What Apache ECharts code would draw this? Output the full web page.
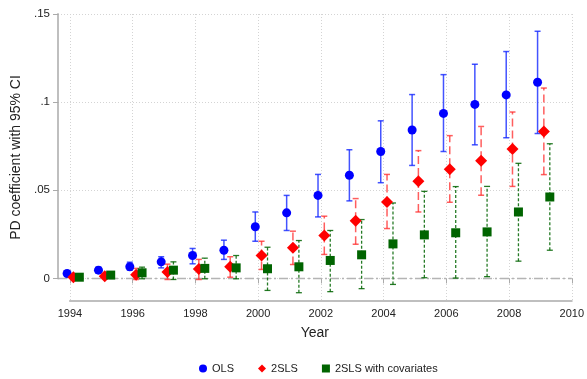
<!DOCTYPE html>
<html>
<head>
<meta charset="utf-8">
<script src="https://cdn.jsdelivr.net/npm/echarts@6/dist/echarts.min.js"></script>
<style>
  html, body { margin: 0; padding: 0; background: #fff; }
  #chart { width: 587px; height: 379px; }
</style>
</head>
<body>
<div id="chart"></div>
<script>
// Estimated PD coefficients by year with 95% confidence bounds
const years = [1994, 1995, 1996, 1997, 1998, 1999, 2000, 2001, 2002, 2003, 2004, 2005, 2006, 2007, 2008, 2009];

const olsCoef = [0.0028, 0.0047, 0.0066, 0.0094, 0.0130, 0.0160, 0.0293, 0.0372, 0.0471, 0.0585, 0.0720, 0.0842, 0.0936, 0.0987, 0.1041, 0.1113];
const olsLo   = [0.0020, 0.0030, 0.0047, 0.0060, 0.0083, 0.0108, 0.0211, 0.0272, 0.0349, 0.0440, 0.0543, 0.0641, 0.0720, 0.0758, 0.0798, 0.0822];
const olsHi   = [0.0036, 0.0064, 0.0092, 0.0123, 0.0170, 0.0217, 0.0377, 0.0471, 0.0590, 0.0730, 0.0894, 0.1043, 0.1156, 0.1215, 0.1287, 0.1402];

const slsCoef = [0.0007, 0.0013, 0.0021, 0.0036, 0.0053, 0.0066, 0.0130, 0.0174, 0.0243, 0.0327, 0.0434, 0.0551, 0.0619, 0.0668, 0.0734, 0.0834];
const slsLo   = [-0.0003, -0.0002, -0.0006, -0.0006, -0.0006, 0.0007, 0.0051, 0.0079, 0.0136, 0.0194, 0.0283, 0.0377, 0.0432, 0.0472, 0.0522, 0.0589];
const slsHi   = [0.0017, 0.0028, 0.0057, 0.0081, 0.0108, 0.0123, 0.0211, 0.0268, 0.0353, 0.0453, 0.0590, 0.0725, 0.0810, 0.0862, 0.0944, 0.1080];

const covCoef = [0.0007, 0.0019, 0.0032, 0.0047, 0.0057, 0.0060, 0.0055, 0.0066, 0.0102, 0.0134, 0.0196, 0.0247, 0.0259, 0.0264, 0.0377, 0.0462];
const covLo   = [-0.0002, 0.0004, -0.0002, -0.0006, -0.0002, -0.0002, -0.0068, -0.0081, -0.0075, -0.0058, -0.0034, 0.0004, 0.0002, 0.0010, 0.0098, 0.0160];
const covHi   = [0.0016, 0.0034, 0.0064, 0.0094, 0.0115, 0.0130, 0.0177, 0.0215, 0.0272, 0.0334, 0.0428, 0.0494, 0.0521, 0.0522, 0.0653, 0.0764];

const xTicks = [1994, 1996, 1998, 2000, 2002, 2004, 2006, 2008, 2010];
const yTicks = [0, 0.05, 0.1, 0.15];
const yTickText = ['0', '.05', '.1', '.15'];

const seriesNames = ['OLS', '2SLS', '2SLS with covariates'];

// axis extents and horizontal dodge of each estimator around the year
const X_MIN = 1993.62, X_MAX = 2010, Y_MIN = -0.0128, Y_MAX = 0.15;
const dodge = [-0.09, 0.11, 0.3];

const font = '"Liberation Sans", Arial, Helvetica, sans-serif';
const blue = '#0000ff', red = '#ff0000', green = '#006400';
const axisGray = '#aaa';

function pts(coef, k) {
  return years.map((y, i) => [y + dodge[k], coef[i]]);
}
function bars(lo, hi, k) {
  return years.map((y, i) => [y + dodge[k], lo[i], hi[i]]);
}

function ciRenderer(color, dash, width) {
  return function (params, api) {
    const x = api.value(0);
    const a = api.coord([x, api.value(1)]);
    const b = api.coord([x, api.value(2)]);
    const cap = 3;
    return {
      type: 'group',
      children: [
        { type: 'line', shape: { x1: a[0], y1: a[1], x2: b[0], y2: b[1] }, style: { stroke: color, lineWidth: width, lineDash: dash } },
        { type: 'line', shape: { x1: a[0] - cap, y1: a[1], x2: a[0] + cap, y2: a[1] }, style: { stroke: color, lineWidth: width } },
        { type: 'line', shape: { x1: b[0] - cap, y1: b[1], x2: b[0] + cap, y2: b[1] }, style: { stroke: color, lineWidth: width } }
      ]
    };
  };
}

// Axis lines that run only between the outermost ticks, plus the dashed zero reference line
function frameRenderer(params, api) {
  if (params.dataIndex !== 0) return null;
  const y0 = api.coord([X_MIN, yTicks[0]]);
  const y1 = api.coord([X_MIN, yTicks[yTicks.length - 1]]);
  const x0 = api.coord([xTicks[0], Y_MIN]);
  const x1 = api.coord([xTicks[xTicks.length - 1], Y_MIN]);
  const z0 = api.coord([X_MIN, 0]);
  const z1 = api.coord([X_MAX, 0]);
  return {
    type: 'group',
    children: [
      { type: 'line', shape: { x1: z0[0], y1: z0[1], x2: z1[0], y2: z1[1] }, style: { stroke: '#b4b4b4', lineWidth: 1.5, lineDash: [9, 3, 2, 3] } },
      { type: 'line', shape: { x1: y0[0], y1: y0[1] + 0.75, x2: y1[0], y2: y1[1] - 0.75 }, style: { stroke: axisGray, lineWidth: 1.5 } },
      { type: 'line', shape: { x1: x0[0] - 0.75, y1: x0[1], x2: x1[0] + 0.75, y2: x1[1] }, style: { stroke: axisGray, lineWidth: 1.5 } }
    ]
  };
}

const chart = echarts.init(document.getElementById('chart'), null, { renderer: 'canvas' });

chart.setOption({
  animation: false,
  backgroundColor: '#fff',
  textStyle: { fontFamily: font },
  grid: { left: 58, right: 11, top: 14, bottom: 78, containLabel: false },
  xAxis: {
    type: 'value',
    min: X_MIN,
    max: X_MAX,
    name: 'Year',
    nameLocation: 'middle',
    nameGap: 25,
    nameTextStyle: { fontSize: 14, color: '#222', fontFamily: font },
    axisLine: { show: false },
    axisTick: { show: true, length: 5, lineStyle: { color: axisGray }, customValues: xTicks },
    axisLabel: { fontSize: 11, color: '#222', margin: 7, fontFamily: font, customValues: xTicks, formatter: v => String(Math.round(v)) },
    splitLine: { show: true, lineStyle: { color: '#d4d4d4', type: [1, 2], width: 1 }, customValues: xTicks }
  },
  yAxis: {
    type: 'value',
    min: Y_MIN,
    max: Y_MAX,
    name: 'PD coefficient with 95% CI',
    nameLocation: 'middle',
    nameGap: 32,
    nameTextStyle: { fontSize: 14, color: '#222', fontFamily: font },
    axisLine: { show: false },
    axisTick: { show: true, length: 5, lineStyle: { color: axisGray }, customValues: yTicks },
    axisLabel: {
      fontSize: 11.5, color: '#222', margin: 8, fontFamily: font,
      customValues: yTicks,
      formatter: v => yTickText[yTicks.findIndex(t => Math.abs(t - v) < 1e-9)] ?? ''
    },
    splitLine: { show: true, lineStyle: { color: '#d4d4d4', type: [1, 2], width: 1 }, customValues: [0.05, 0.1, 0.15] }
  },
  legend: {
    data: seriesNames,
    left: 194,
    top: 358,
    itemWidth: 8,
    itemHeight: 8,
    itemGap: 24,
    textStyle: { fontSize: 11, color: '#222', fontFamily: font }
  },
  series: [
    { type: 'custom', name: 'frame', silent: true, z: 1, clip: false, data: [[X_MIN, 0]], renderItem: frameRenderer },
    { type: 'custom', name: 'olsCI', z: 2, renderItem: ciRenderer('rgba(20,40,255,0.8)', null, 1.5), data: bars(olsLo, olsHi, 0) },
    { type: 'custom', name: 'slsCI', z: 2, renderItem: ciRenderer('rgba(255,40,40,0.75)', [8, 4], 1.5), data: bars(slsLo, slsHi, 1) },
    { type: 'custom', name: 'covCI', z: 2, renderItem: ciRenderer('rgba(0,100,0,0.85)', [3, 2], 1.3), data: bars(covLo, covHi, 2) },
    { type: 'scatter', name: seriesNames[0], z: 5, symbol: 'circle', symbolSize: 9, itemStyle: { color: blue, opacity: 1 }, data: pts(olsCoef, 0) },
    { type: 'scatter', name: seriesNames[1], z: 5, symbol: 'diamond', symbolSize: 12, itemStyle: { color: red, opacity: 1 }, data: pts(slsCoef, 1) },
    { type: 'scatter', name: seriesNames[2], z: 5, symbol: 'rect', symbolSize: 9, itemStyle: { color: green, opacity: 1 }, data: pts(covCoef, 2) }
  ]
});
</script>
</body>
</html>
